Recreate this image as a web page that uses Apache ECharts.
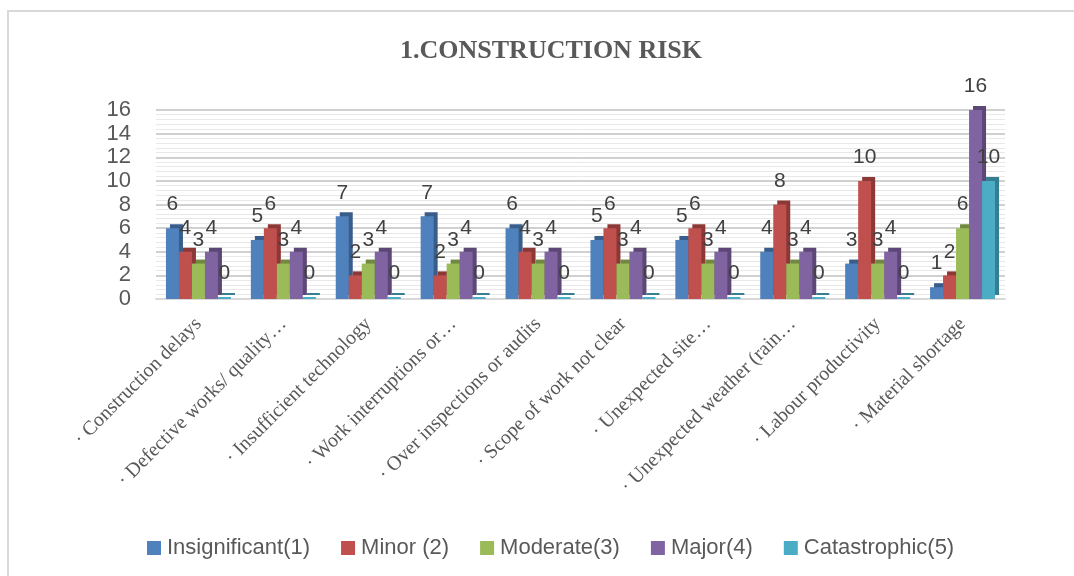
<!DOCTYPE html>
<html>
<head>
<meta charset="utf-8">
<script src="https://cdn.jsdelivr.net/npm/echarts@6/dist/echarts.min.js"></script>
<style>
html,body{margin:0;padding:0;background:#fff;}
#chart{width:1074px;height:576px;}
</style>
</head>
<body>
<div id="chart"></div>
<script>
const categories = [
  '· Construction delays',
  '· Defective works/ quality…',
  '· Insufficient technology',
  '· Work interruptions or…',
  '· Over inspections or audits',
  '· Scope of work not clear',
  '· Unexpected site…',
  '· Unexpected weather (rain…',
  '· Labour productivity',
  '· Material shortage'
];
const seriesNames = ['Insignificant(1)', 'Minor (2)', 'Moderate(3)', 'Major(4)', 'Catastrophic(5)'];
const insignificant = [6, 5, 7, 7, 6, 5, 5, 4, 3, 1];
const minor         = [4, 6, 2, 2, 4, 6, 6, 8, 10, 2];
const moderate      = [3, 3, 3, 3, 3, 3, 3, 3, 3, 6];
const major         = [4, 4, 4, 4, 4, 4, 4, 4, 4, 16];
const catastrophic  = [0, 0, 0, 0, 0, 0, 0, 0, 0, 10];
const yTicks = [0, 2, 4, 6, 8, 10, 12, 14, 16];

const colors = ['#4F81BD', '#C0504D', '#9BBB59', '#8064A2', '#4BACC6'];
const sideColors = ['#385D8A', '#8C3836', '#71893F', '#5C4776', '#357D91'];
const values = [insignificant, minor, moderate, major, catastrophic];

const chart = echarts.init(document.getElementById('chart'));
const series = values.map((v, i) => ({
  name: seriesNames[i],
  type: 'bar',
  data: v,
  barWidth: 13,
  barGap: '0%',
  barMinHeight: 2,
  itemStyle: {
    color: colors[i],
    shadowColor: sideColors[i],
    shadowOffsetX: 4,
    shadowOffsetY: -4,
    shadowBlur: 0
  },
  label: {
    show: true,
    position: 'top',
    distance: 13,
    fontFamily: 'Liberation Sans, Arial, sans-serif',
    fontSize: 21,
    color: '#404040'
  }
}));

chart.setOption({
  animation: false,
  color: colors,
  title: {
    text: '1.CONSTRUCTION RISK',
    left: 546,
    top: 33,
    textAlign: 'center',
    textStyle: {
      fontFamily: 'Liberation Serif, Times New Roman, serif',
      fontWeight: 'bold',
      fontSize: 26,
      color: '#595959'
    }
  },
  graphic: [{
    type: 'rect',
    shape: { x: 8, y: 11, width: 1200, height: 700 },
    style: { fill: 'none', stroke: '#d9d9d9', lineWidth: 2 },
    silent: true
  }],
  legend: {
    data: seriesNames,
    left: 142,
    top: 532,
    icon: 'rect',
    itemWidth: 14,
    itemHeight: 14,
    itemGap: 31,
    textStyle: {
      fontFamily: 'Liberation Sans, Arial, sans-serif',
      fontSize: 22,
      color: '#595959',
      padding: [0, 0, 0, 1]
    }
  },
  grid: { left: 156, right: 69, top: 110, bottom: 277, containLabel: false },
  xAxis: {
    type: 'category',
    data: categories,
    axisTick: { show: false },
    axisLine: { show: true, lineStyle: { color: '#d9d9d9', width: 2 } },
    axisLabel: {
      rotate: 45,
      interval: 0,
      margin: 22,
      fontFamily: 'Liberation Serif, Times New Roman, serif',
      fontSize: 20,
      color: '#595959'
    }
  },
  yAxis: {
    type: 'value',
    min: yTicks[0],
    max: yTicks[yTicks.length - 1],
    interval: 2,
    axisLine: { show: false },
    axisTick: { show: false },
    axisLabel: {
      margin: 25,
      fontFamily: 'Liberation Sans, Arial, sans-serif',
      fontSize: 22,
      color: '#595959'
    },
    splitLine: { show: true, lineStyle: { color: '#d0d0d0', width: 2 } },
    minorTick: { show: false, splitNumber: 5 },
    minorSplitLine: { show: true, lineStyle: { color: '#e8e8e8', width: 1 } }
  },
  series: series
});
</script>
</body>
</html>
